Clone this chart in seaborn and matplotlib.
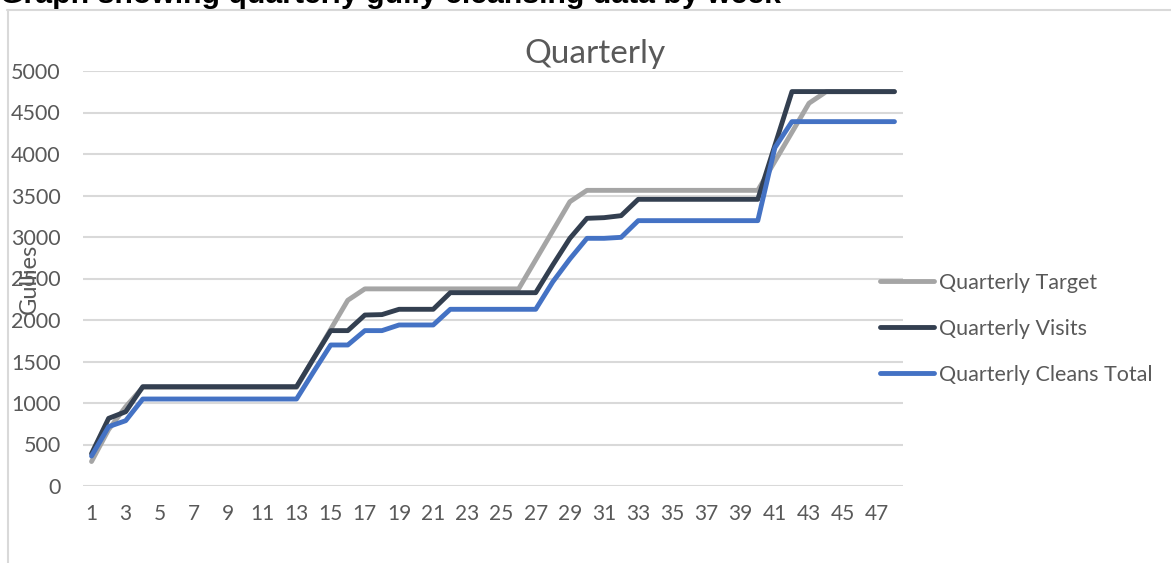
import numpy as np
import pandas as pd
import matplotlib
matplotlib.use("Agg")
import matplotlib.pyplot as plt
from matplotlib.lines import Line2D
from matplotlib import font_manager
import seaborn as sns

# Weekly cumulative figures for the year
weeks = list(range(1, 49))
quarterly_target = [295, 680, 955, 1188, 1188, 1188, 1188, 1188, 1188, 1188,
                    1188, 1188, 1188, 1538, 1888, 2238, 2375, 2375, 2375, 2375,
                    2375, 2375, 2375, 2375, 2375, 2375, 2725, 3075, 3425, 3562,
                    3562, 3562, 3562, 3562, 3562, 3562, 3562, 3562, 3562, 3562,
                    3912, 4262, 4612, 4750, 4750, 4750, 4750, 4750]
quarterly_visits = [390, 815, 895, 1197, 1197, 1197, 1197, 1197, 1197, 1197,
                    1197, 1197, 1197, 1538, 1872, 1872, 2060, 2065, 2129, 2129,
                    2129, 2329, 2329, 2329, 2329, 2329, 2329, 2663, 2984, 3225,
                    3233, 3257, 3454, 3454, 3454, 3454, 3454, 3454, 3454, 3454,
                    4104, 4752, 4752, 4752, 4752, 4752, 4752, 4752]
quarterly_cleans = [361, 715, 787, 1048, 1048, 1048, 1048, 1048, 1048, 1048,
                    1048, 1048, 1048, 1377, 1699, 1699, 1872, 1872, 1940, 1940,
                    1940, 2129, 2129, 2129, 2129, 2129, 2129, 2460, 2735, 2984,
                    2984, 2996, 3197, 3197, 3197, 3197, 3197, 3197, 3197, 3197,
                    4076, 4390, 4390, 4390, 4390, 4390, 4390, 4390]
series_names = ["Quarterly Target", "Quarterly Visits", "Quarterly Cleans Total"]
series_colors = ["#A5A5A5", "#333F50", "#4472C4"]
y_ticks = list(range(0, 5001, 500))
x_ticks = list(range(1, 48, 2))

df = pd.DataFrame({
    "Week": weeks * 3,
    "Gullies": quarterly_target + quarterly_visits + quarterly_cleans,
    "Series": sum([[n] * len(weeks) for n in series_names], []),
})

sns.set_theme(style="white")
plt.rcParams["font.family"] = ["Lato", "DejaVu Sans"]

available = {f.name for f in font_manager.fontManager.ttflist}
narrow_font = "Liberation Sans Narrow" if "Liberation Sans Narrow" in available else "Lato"

W, H = 1171, 563
fig = plt.figure(figsize=(W / 100, H / 100), dpi=100)
ax = fig.add_axes([83 / W, 1 - 486 / H, (903 - 83) / W, (486 - 71) / H])

text_gray = "#595959"
grid_gray = "#D9D9D9"
line_w = 3.5

sns.lineplot(data=df, x="Week", y="Gullies", hue="Series", hue_order=series_names,
             palette=series_colors, linewidth=line_w, ax=ax, legend=False,
             solid_capstyle="round", solid_joinstyle="round", zorder=3)

ax.set_xlim(0.5, 48.5)
ax.set_ylim(0, 5000)
ax.set_yticks(y_ticks)
ax.set_xticks(x_ticks)
ax.set_xticklabels([str(t) for t in x_ticks], fontsize=15, color=text_gray,
                   family=[narrow_font, "DejaVu Sans"])
ax.set_yticklabels([str(t) for t in y_ticks], fontsize=15.5, color=text_gray)
ax.tick_params(axis="y", length=0, pad=16)
ax.tick_params(axis="x", length=0, pad=13)
ax.grid(axis="y", color=grid_gray, linewidth=1.5, zorder=0)
ax.grid(axis="x", visible=False)
for s in ax.spines.values():
    s.set_visible(False)
ax.set_xlabel("")
ax.set_ylabel("Gullies", fontsize=17, color=text_gray)
ax.yaxis.set_label_coords(-0.053, 0.5)

# Legend on the right
handles = [Line2D([0], [0], color=c, linewidth=line_w, solid_capstyle="round")
           for c in series_colors]
leg = fig.legend(handles, series_names, loc="upper left",
                 bbox_to_anchor=(880 / W, 1 - 273 / H), frameon=False,
                 fontsize=15.5, handlelength=2.5, handletextpad=0.25,
                 labelspacing=1.2, borderaxespad=0, borderpad=0)
for t in leg.get_texts():
    t.set_color(text_gray)

# Chart title
fig.text(595 / W, 1 - 63 / H, "Quarterly", ha="center", va="baseline",
         fontsize=24, color=text_gray)

# Document heading above the chart frame
fig.text(0 / W, 1 - 3 / H, "Graph showing quarterly gully cleansing data by week",
         ha="left", va="baseline", fontsize=21.8, fontweight="bold",
         family=["Liberation Sans", "DejaVu Sans"], color="black")

# Chart frame
frame_kw = dict(color=grid_gray, linewidth=1.5, transform=fig.transFigure)
fig.add_artist(Line2D([7 / W, 1.0], [1 - 9.5 / H, 1 - 9.5 / H], **frame_kw))
fig.add_artist(Line2D([8 / W, 8 / W], [0, 1 - 9.5 / H], **frame_kw))

fig.savefig("out.png", dpi=100)
